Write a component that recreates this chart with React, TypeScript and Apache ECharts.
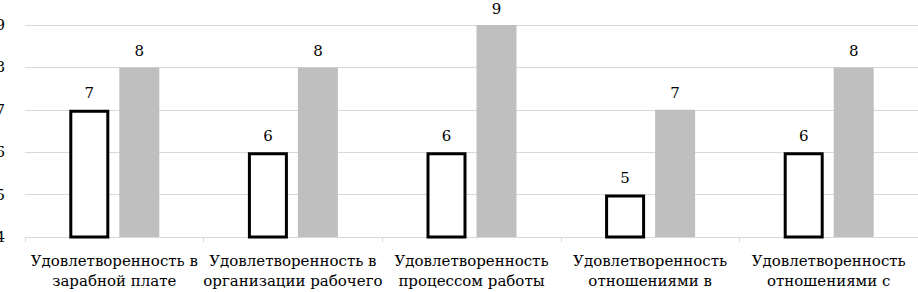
import React, { useEffect, useRef } from "react";
import * as echarts from "echarts";

const categories = [
  "Удовлетворенность в\nзарабной плате",
  "Удовлетворенность в\nорганизации рабочего",
  "Удовлетворенность\nпроцессом работы",
  "Удовлетворенность\nотношениями в",
  "Удовлетворенность\nотношениями с",
];
const seriesA = [7, 6, 6, 5, 6];
const seriesB = [8, 8, 9, 7, 8];
const yMin = 4;
const yMax = 9;
const yInterval = 1;

const FONT = "DejaVu Serif";

export default function App() {
  const ref = useRef<HTMLDivElement>(null);
  useEffect(() => {
    if (!ref.current) return;
    const chart = echarts.init(ref.current, null, { renderer: "svg" });
    const lbl = {
      show: true,
      position: "top",
      distance: 9,
      color: "#000",
      fontFamily: FONT,
      fontSize: 15,
    };
    chart.setOption({
      animation: false,
      backgroundColor: "#ffffff",
      textStyle: { fontFamily: FONT },
      grid: {
        left: 25,
        right: 0,
        top: 25,
        bottom: 55,
        containLabel: false,
        outerBoundsMode: "none",
      },
      xAxis: {
        type: "category",
        data: categories,
        boundaryGap: true,
        axisLine: { show: true, lineStyle: { color: "#d9d9d9", width: 1 } },
        axisTick: { show: true, length: 5, lineStyle: { color: "#d9d9d9" } },
        axisLabel: {
          color: "#000",
          fontFamily: FONT,
          fontSize: 15,
          lineHeight: 20,
          margin: 14,
          interval: 0,
        },
      },
      yAxis: {
        type: "value",
        min: yMin,
        max: yMax,
        interval: yInterval,
        axisLine: { show: false },
        axisTick: { show: false },
        splitLine: { lineStyle: { color: "#d9d9d9", width: 1 } },
        axisLabel: {
          color: "#000",
          fontFamily: FONT,
          fontSize: 15,
          margin: 20,
        },
      },
      series: [
        {
          type: "bar",
          data: seriesA,
          barWidth: 40,
          barGap: "25%",
          itemStyle: { color: "#ffffff", borderColor: "#000000", borderWidth: 3 },
          label: lbl,
        },
        {
          type: "bar",
          data: seriesB,
          barWidth: 40,
          barGap: "25%",
          itemStyle: { color: "#bfbfbf" },
          label: lbl,
        },
      ],
    });
    return () => chart.dispose();
  }, []);
  return (
    <div
      ref={ref}
      style={{ position: "absolute", left: 0, top: 0, width: 918, height: 292 }}
    />
  );
}
